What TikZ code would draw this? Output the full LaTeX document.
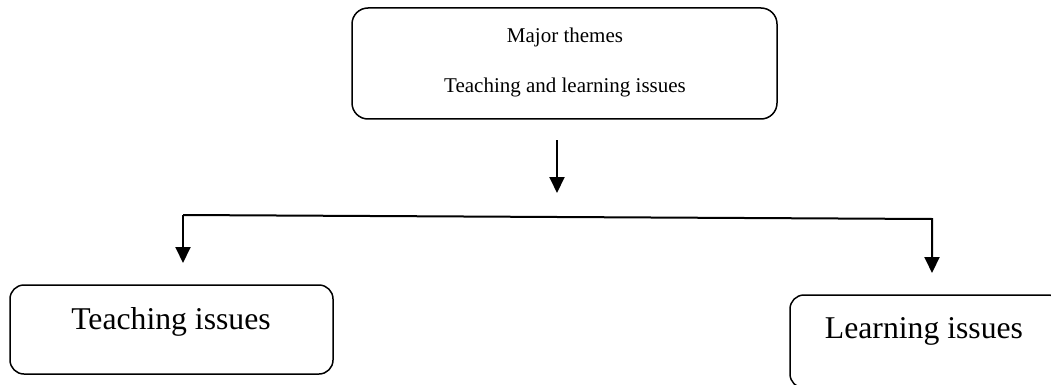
\documentclass[tikz,border=0pt]{standalone}
\usepackage{fontspec}
\setmainfont{Liberation Serif}
\usetikzlibrary{arrows.meta}
\begin{document}
\begin{tikzpicture}[x=1pt,y=-1pt,
  box/.style={draw=black,line width=1.5pt,rounded corners=#1,inner sep=0pt},
  box/.default=16pt,
  conn/.style={draw=black,line width=2pt},
  arr/.style={conn,-{Triangle[width=15pt,length=16pt]}},
  small/.style={font=\fontsize{21}{25}\selectfont,anchor=base,inner sep=0pt},
  big/.style={font=\fontsize{31.7}{36}\selectfont,anchor=base,inner sep=0pt}]
  \useasboundingbox (0,0) rectangle (1051,385);
  \clip (0,0) rectangle (1051,385);

  % top theme box
  \node[box, minimum width=425pt, minimum height=111pt] (theme) at (564.5,63.5) {};
  \node[small] (themeA) at (565,43) {Major themes};
  \node[small] (themeB) at (565,93) {Teaching and learning issues};

  % branch boxes
  \node[box=14pt, minimum width=323pt, minimum height=89pt] (teach) at (171.5,329.5) {};
  \node[big] (teachtxt) at (171,329) {Teaching issues};
  \node[box=14pt, minimum width=272pt, minimum height=93pt] (learn) at (926,341.5) {};
  \node[big] (learntxt) at (924,338) {Learning issues};

  % connector points
  \coordinate (down0) at (557,140);
  \coordinate (down1) at (557,193);
  \coordinate (lcorner) at (183,215);
  \coordinate (rcorner) at (932,219);
  \coordinate (ltip) at (183,263);
  \coordinate (rtip) at (932,273);

  \draw[arr] (down0) -- (down1);
  \draw[arr] (lcorner) -- (rcorner) -- (rtip);
  \draw[arr] (lcorner) -- (ltip);
\end{tikzpicture}
\end{document}
